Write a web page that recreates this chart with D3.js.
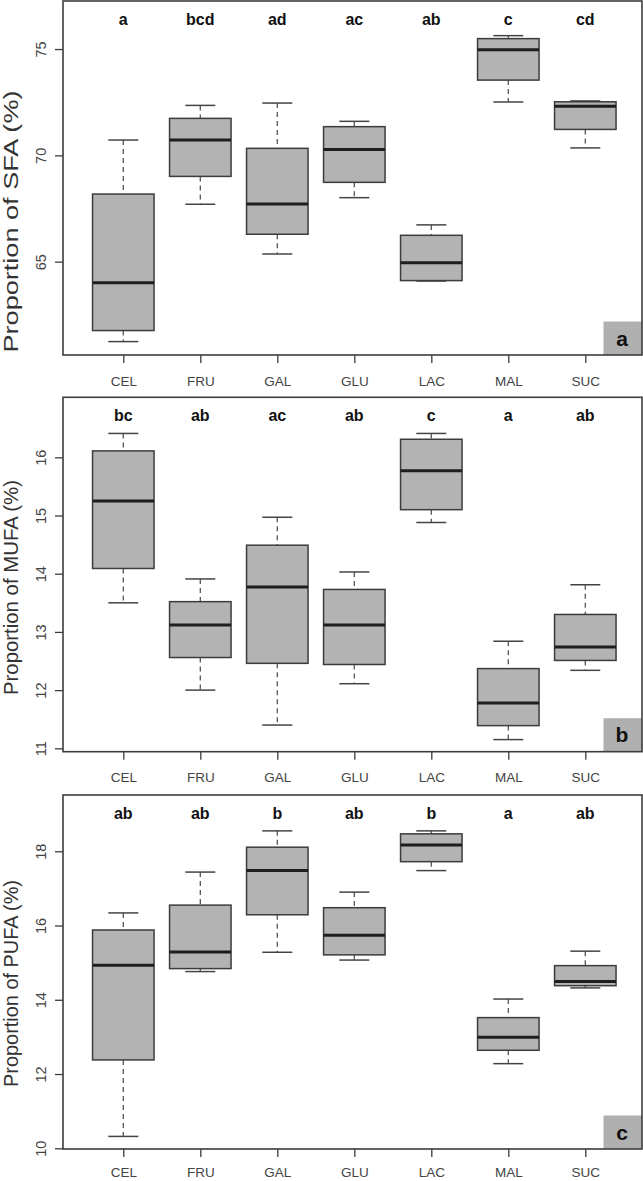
<!DOCTYPE html>
<html>
<head>
<meta charset="utf-8">
<script src="https://cdn.jsdelivr.net/npm/d3@7"></script>
<style>
  html, body { margin: 0; padding: 0; background: #fff; }
  svg { display: block; font-family: "Liberation Sans", Arial, Helvetica, sans-serif; }
</style>
</head>
<body>
<svg id="chart" width="643" height="1181"></svg>
<script>
// ---------- data ----------
const categories = ["CEL", "FRU", "GAL", "GLU", "LAC", "MAL", "SUC"];

// five-number summaries per category: [lower whisker, Q1, median, Q3, upper whisker]
const sfaStats = [
  [61.24, 61.76, 64.01, 68.18, 70.72],
  [67.70, 69.01, 70.72, 71.74, 72.35],
  [65.36, 66.29, 67.71, 70.33, 72.46],
  [68.01, 68.73, 70.28, 71.35, 71.60],
  [64.09, 64.11, 64.95, 66.24, 66.73],
  [72.51, 73.54, 74.97, 75.49, 75.63],
  [70.35, 71.22, 72.31, 72.52, 72.56]
];
const mufaStats = [
  [13.50, 14.09, 15.25, 16.11, 16.41],
  [12.00, 12.56, 13.12, 13.52, 13.91],
  [11.40, 12.46, 13.77, 14.49, 14.97],
  [12.11, 12.44, 13.12, 13.73, 14.03],
  [14.88, 15.10, 15.77, 16.31, 16.41],
  [11.15, 11.39, 11.78, 12.37, 12.84],
  [12.34, 12.51, 12.74, 13.30, 13.81]
];
const pufaStats = [
  [10.32, 12.38, 14.93, 15.88, 16.34],
  [14.76, 14.84, 15.29, 16.55, 17.44],
  [15.28, 16.29, 17.48, 18.11, 18.55],
  [15.07, 15.21, 15.74, 16.48, 16.90],
  [17.48, 17.72, 18.17, 18.47, 18.55],
  [12.28, 12.64, 12.99, 13.52, 14.02],
  [14.32, 14.38, 14.49, 14.92, 15.31]
];

const sfaLetters  = ["a", "bcd", "ad", "ac", "ab", "c", "cd"];
const mufaLetters = ["bc", "ab", "ac", "ab", "c", "a", "ab"];
const pufaLetters = ["ab", "ab", "b", "ab", "b", "a", "ab"];

const sfaTicks  = [65, 70, 75];
const mufaTicks = [11, 12, 13, 14, 15, 16];
const pufaTicks = [10, 12, 14, 16, 18];

const yLabels = ["Proportion of SFA (%)", "Proportion of MUFA (%)", "Proportion of PUFA (%)"];
const panelTags = ["a", "b", "c"];

// ---------- layout ----------
const svg = d3.select("#chart");
const left = 63, right = 642;
const panels = [
  { stats: sfaStats,  letters: sfaLetters,  ticks: sfaTicks,  top: 1,     bottom: 355,   domain: [60.61, 77.26], labelCenter: 221.5, labelLen: 262, xLabOff: 31 },
  { stats: mufaStats, letters: mufaLetters, ticks: mufaTicks, top: 397.3, bottom: 751.7, domain: [10.942, 17.031], labelCenter: 587.5, labelLen: 215, xLabOff: 30 },
  { stats: pufaStats, letters: pufaLetters, ticks: pufaTicks, top: 795,   bottom: 1149,  domain: [9.981, 19.516], labelCenter: 983.5, labelLen: 207, xLabOff: 28 }
];

const x = d3.scaleLinear().domain([0, categories.length - 1]).range([123.3, 585.3]);
const boxW = 61.5, capW = 30;
const fillGray = "#b3b3b3", dark = "#3c3c3c";

panels.forEach((p, pi) => {
  const y = d3.scaleLinear().domain(p.domain).range([p.bottom, p.top]);
  const g = svg.append("g");

  // y axis (ticks on left)
  const yAxis = d3.axisLeft(y).tickValues(p.ticks).tickSize(8).tickSizeOuter(0).tickFormat(d3.format("d"));
  const ya = g.append("g").attr("transform", `translate(${left},0)`).call(yAxis);
  ya.select(".domain").remove();
  ya.selectAll(".tick line").attr("stroke", dark).attr("stroke-width", 1.3);
  ya.selectAll(".tick text")
    .attr("x", null).attr("dy", null)
    .attr("transform", "translate(-17,0) rotate(-90)")
    .attr("text-anchor", "middle")
    .attr("font-size", 14.5)
    .attr("fill", "#444");

  // x axis (ticks at bottom)
  const xAxis = d3.axisBottom(x).tickValues(d3.range(categories.length)).tickSize(8).tickSizeOuter(0)
    .tickFormat(i => categories[i]);
  const xa = g.append("g").attr("transform", `translate(0,${p.bottom})`).call(xAxis);
  xa.select(".domain").remove();
  xa.selectAll(".tick line").attr("stroke", dark).attr("stroke-width", 1.3);
  xa.selectAll(".tick text")
    .attr("y", p.xLabOff).attr("dy", null)
    .attr("font-size", 13.5)
    .attr("fill", "#444");

  // boxes
  const boxes = g.selectAll("g.box").data(p.stats).enter().append("g").attr("class", "box");
  // whiskers (dashed)
  boxes.append("line")
    .attr("x1", (d, i) => x(i)).attr("x2", (d, i) => x(i))
    .attr("y1", d => y(d[4])).attr("y2", d => y(d[3]))
    .attr("stroke", "#555").attr("stroke-width", 1.3).attr("stroke-dasharray", "5,4");
  boxes.append("line")
    .attr("x1", (d, i) => x(i)).attr("x2", (d, i) => x(i))
    .attr("y1", d => y(d[1])).attr("y2", d => y(d[0]))
    .attr("stroke", "#555").attr("stroke-width", 1.3).attr("stroke-dasharray", "5,4");
  // caps
  boxes.append("line")
    .attr("x1", (d, i) => x(i) - capW / 2).attr("x2", (d, i) => x(i) + capW / 2)
    .attr("y1", d => y(d[4])).attr("y2", d => y(d[4]))
    .attr("stroke", "#444").attr("stroke-width", 1.5);
  boxes.append("line")
    .attr("x1", (d, i) => x(i) - capW / 2).attr("x2", (d, i) => x(i) + capW / 2)
    .attr("y1", d => y(d[0])).attr("y2", d => y(d[0]))
    .attr("stroke", "#444").attr("stroke-width", 1.5);
  // box
  boxes.append("rect")
    .attr("x", (d, i) => x(i) - boxW / 2).attr("width", boxW)
    .attr("y", d => y(d[3])).attr("height", d => y(d[1]) - y(d[3]))
    .attr("fill", fillGray).attr("stroke", dark).attr("stroke-width", 1.5);
  // median
  boxes.append("line")
    .attr("x1", (d, i) => x(i) - boxW / 2).attr("x2", (d, i) => x(i) + boxW / 2)
    .attr("y1", d => y(d[2])).attr("y2", d => y(d[2]))
    .attr("stroke", "#1e1e1e").attr("stroke-width", 3);

  // significance letters
  g.selectAll("text.sig").data(p.letters).enter().append("text").attr("class", "sig")
    .attr("x", (d, i) => x(i)).attr("y", p.top + 24)
    .attr("text-anchor", "middle").attr("font-size", 16).attr("font-weight", "bold")
    .attr("fill", "#111").text(d => d);

  // corner tag
  g.append("rect").attr("x", 603.5).attr("y", p.bottom - 33.5).attr("width", right - 603.5).attr("height", 33.5)
    .attr("fill", "#b0b0b0");
  g.append("text").attr("x", 622).attr("y", p.bottom - 9.5)
    .attr("text-anchor", "middle").attr("font-size", 21).attr("font-weight", "bold")
    .attr("fill", "#111").text(panelTags[pi]);

  // frame
  g.append("rect").attr("x", left).attr("y", p.top).attr("width", right - left).attr("height", p.bottom - p.top)
    .attr("fill", "none").attr("stroke", dark).attr("stroke-width", 1.6);

  // y label
  g.append("text")
    .attr("transform", `translate(18,${p.labelCenter}) rotate(-90)`)
    .attr("text-anchor", "middle").attr("font-size", 20.5).attr("fill", "#333")
    .attr("textLength", p.labelLen).attr("lengthAdjust", "spacingAndGlyphs")
    .text(yLabels[pi]);
});
</script>
</body>
</html>
